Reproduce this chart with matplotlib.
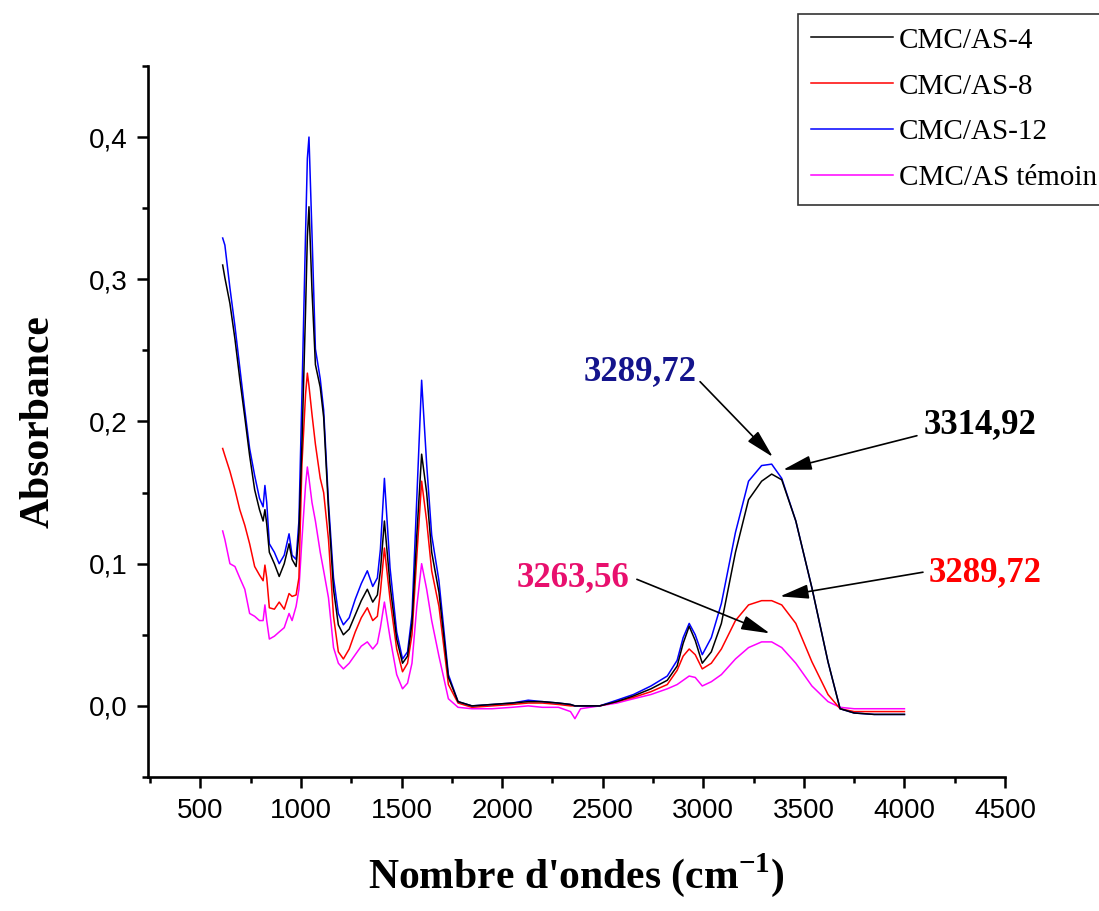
import numpy as np
import matplotlib
matplotlib.use('Agg')
import matplotlib.pyplot as plt
from matplotlib.ticker import MultipleLocator, FuncFormatter

# Wavenumbers (cm-1) shared by the four spectra
wavenumbers = [611, 622, 647, 672, 696, 721, 745, 770, 794, 812,
               821, 830, 843, 868, 892, 917, 941, 956, 976, 990,
               1005, 1023, 1032, 1040, 1055, 1072, 1096, 1113, 1137, 1162,
               1186, 1211, 1240, 1270, 1300, 1330, 1357, 1380, 1395, 1415,
               1443, 1476, 1505, 1530, 1552, 1576, 1600, 1625, 1650, 1686,
               1733, 1781, 1850, 1950, 2050, 2130, 2200, 2280, 2340, 2362,
               2390, 2485, 2570, 2653, 2740, 2821, 2870, 2900, 2930, 2960,
               2995, 3040, 3090, 3160, 3225, 3290, 3340, 3390, 3460, 3540,
               3620, 3680, 3750, 3850, 4000]

abs_as4 = [0.310, 0.301, 0.283, 0.258, 0.230, 0.203, 0.176, 0.152, 0.138, 0.130,
           0.138, 0.128, 0.108, 0.100, 0.091, 0.100, 0.114, 0.103, 0.098, 0.122,
           0.184, 0.278, 0.330, 0.351, 0.292, 0.240, 0.224, 0.203, 0.138, 0.082,
           0.057, 0.050, 0.054, 0.064, 0.074, 0.082, 0.073, 0.078, 0.095, 0.130,
           0.085, 0.047, 0.030, 0.035, 0.058, 0.120, 0.177, 0.150, 0.108, 0.080,
           0.020, 0.003, 0.000, 0.001, 0.002, 0.003, 0.003, 0.002, 0.001, 0.000,
           0.000, 0.000, 0.003, 0.007, 0.012, 0.018, 0.028, 0.044, 0.056, 0.046,
           0.030, 0.038, 0.058, 0.108, 0.145, 0.158, 0.163, 0.159, 0.130, 0.083,
           0.031, -0.002, -0.005, -0.006, -0.006]

abs_as8 = [0.181, 0.176, 0.165, 0.152, 0.138, 0.127, 0.114, 0.098, 0.092, 0.088,
           0.099, 0.090, 0.069, 0.068, 0.073, 0.068, 0.079, 0.077, 0.078, 0.090,
           0.170, 0.219, 0.234, 0.225, 0.205, 0.184, 0.160, 0.150, 0.117, 0.063,
           0.038, 0.033, 0.040, 0.052, 0.062, 0.069, 0.060, 0.063, 0.080, 0.111,
           0.075, 0.040, 0.024, 0.030, 0.050, 0.105, 0.158, 0.130, 0.095, 0.070,
           0.015, 0.002, -0.001, 0.000, 0.001, 0.002, 0.002, 0.001, 0.000, 0.000,
           0.000, 0.000, 0.003, 0.006, 0.010, 0.015, 0.025, 0.035, 0.040, 0.036,
           0.026, 0.030, 0.040, 0.060, 0.071, 0.074, 0.074, 0.071, 0.058, 0.031,
           0.008, -0.002, -0.004, -0.004, -0.004]

abs_as12 = [0.329, 0.324, 0.294, 0.267, 0.238, 0.208, 0.181, 0.162, 0.146, 0.140,
            0.155, 0.143, 0.114, 0.108, 0.100, 0.106, 0.121, 0.106, 0.103, 0.130,
            0.219, 0.332, 0.385, 0.400, 0.332, 0.251, 0.230, 0.208, 0.143, 0.090,
            0.065, 0.057, 0.062, 0.075, 0.086, 0.095, 0.084, 0.090, 0.110, 0.160,
            0.097, 0.052, 0.033, 0.038, 0.064, 0.146, 0.229, 0.170, 0.120, 0.088,
            0.022, 0.003, 0.000, 0.001, 0.002, 0.004, 0.003, 0.002, 0.001, 0.000,
            0.000, 0.000, 0.004, 0.008, 0.014, 0.021, 0.032, 0.048, 0.058, 0.050,
            0.036, 0.048, 0.072, 0.122, 0.158, 0.169, 0.170, 0.160, 0.130, 0.083,
            0.031, -0.002, -0.005, -0.006, -0.006]

abs_temoin = [0.123, 0.117, 0.100, 0.098, 0.090, 0.082, 0.065, 0.063, 0.060, 0.060,
              0.071, 0.060, 0.047, 0.049, 0.052, 0.055, 0.065, 0.060, 0.070, 0.082,
              0.117, 0.155, 0.168, 0.160, 0.143, 0.130, 0.108, 0.095, 0.076, 0.041,
              0.030, 0.026, 0.030, 0.036, 0.042, 0.045, 0.040, 0.044, 0.055, 0.073,
              0.048, 0.022, 0.012, 0.016, 0.030, 0.070, 0.100, 0.082, 0.060, 0.035,
              0.005, -0.001, -0.002, -0.002, -0.001, 0.000, -0.001, -0.001, -0.004, -0.009,
              -0.002, 0.000, 0.002, 0.005, 0.008, 0.012, 0.015, 0.018, 0.021, 0.020,
              0.014, 0.017, 0.022, 0.033, 0.041, 0.045, 0.045, 0.041, 0.030, 0.014,
              0.003, -0.001, -0.002, -0.002, -0.002]

labels = ['CMC/AS-4', 'CMC/AS-8', 'CMC/AS-12', 'CMC/AS témoin']
colors = ['black', '#ff0000', '#0000ff', '#ff00ff']

# Peak annotations: text, colour, text position, arrow tail, arrow tip (data units)
peak_labels = ['3289,72', '3314,92', '3289,72', '3263,56']
peak_colors = ['#14148c', 'black', '#ff0000', '#e8106e']
peak_text_xy = [(2685, 0.235), (4375, 0.198), (4400, 0.094), (2352, 0.090)]
peak_tail_xy = [(2984, 0.228), (4062, 0.190), (4092, 0.094), (2670, 0.089)]
peak_tip_xy = [(3346, 0.175), (3396, 0.166), (3381, 0.077), (3331, 0.051)]

plt.rcParams['mathtext.fontset'] = 'custom'
plt.rcParams['mathtext.rm'] = 'Liberation Serif'
plt.rcParams['mathtext.bf'] = 'Liberation Serif:bold'

fig = plt.figure(figsize=(10.99, 9.11), dpi=100)
ax = fig.add_axes([0.1347, 0.1471, 0.7798, 0.7805])

series = [abs_as4, abs_as8, abs_as12, abs_temoin]
handles = [None] * 4
# draw témoin first, black last so it sits on top
for i in [3, 1, 2, 0]:
    line, = ax.plot(wavenumbers, series[i], color=colors[i], lw=1.1, label=labels[i])
    handles[i] = line

ax.set_xlim(240, 4500)
ax.set_ylim(-0.05, 0.45)

for side in ['top', 'right']:
    ax.spines[side].set_visible(False)
for side in ['left', 'bottom']:
    ax.spines[side].set_linewidth(1.9)

ax.xaxis.set_minor_locator(MultipleLocator(250))
ax.yaxis.set_minor_locator(MultipleLocator(0.05))
ax.set_xticks([500, 1000, 1500, 2000, 2500, 3000, 3500, 4000, 4500])
ax.set_yticks([0.0, 0.1, 0.2, 0.3, 0.4])
ax.yaxis.set_major_formatter(FuncFormatter(lambda v, p: '{:.1f}'.format(v).replace('.', ',')))

ax.tick_params(which='major', direction='out', length=8, width=1.8,
               labelsize=20, pad=7)
ax.tick_params(which='minor', direction='out', length=4.5, width=1.8)
for lab in ax.get_xticklabels() + ax.get_yticklabels():
    lab.set_family('Liberation Sans')

ax.set_ylabel('Absorbance', family='Liberation Serif', fontweight='bold',
              fontsize=30, labelpad=22)
ax.set_xlabel(r"Nombre d'ondes (cm$^{\mathbf{-1}}$)", family='Liberation Serif',
              fontweight='bold', fontsize=30, labelpad=20)

for txt, col, txy, tail, tip in zip(peak_labels, peak_colors, peak_text_xy,
                                    peak_tail_xy, peak_tip_xy):
    ax.text(txy[0], txy[1], txt, color=col, family='Liberation Serif',
            fontweight='bold', fontsize=25, ha='center', va='center')
    ax.annotate('', xy=tip, xytext=tail,
                arrowprops=dict(arrowstyle='-|>,head_length=0.8,head_width=0.2',
                                color='black', lw=1.2, mutation_scale=22,
                                shrinkA=0, shrinkB=0))

leg = fig.legend(handles=handles, labels=labels, loc='upper left',
                 bbox_to_anchor=(798 / 1099, 1 - 14 / 911),
                 prop={'family': 'Liberation Serif', 'size': 21},
                 frameon=True, fancybox=False, handlelength=2.8,
                 handletextpad=0.2, labelspacing=0.67, borderpad=0.45,
                 borderaxespad=0)
leg.get_frame().set_edgecolor('black')
leg.get_frame().set_linewidth(1.2)

fig.savefig('out.png', dpi=100)
